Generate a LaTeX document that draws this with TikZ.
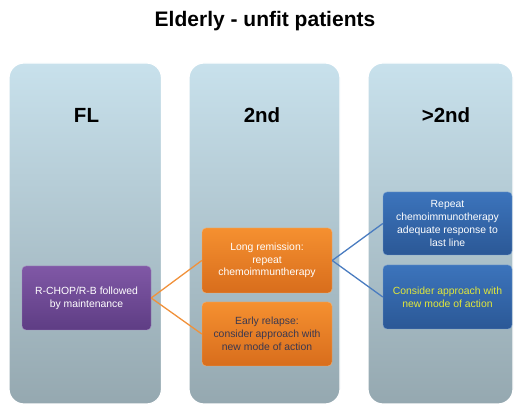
\documentclass[tikz,border=0pt]{standalone}
\usepackage{fontspec}
\setmainfont{Liberation Sans}
\begin{document}
\begin{tikzpicture}[x=1pt,y=1pt,
  panel/.style={draw=white,line width=1.2pt,rounded corners=15pt,top color=panelTop,bottom color=panelBot},
  head/.style={font=\bfseries\fontsize{20.5}{24}\selectfont,text=black},
  boxbase/.style={rounded corners=4pt,minimum width=129pt,minimum height=64pt,align=center,
    font=\fontsize{10.4}{12.8}\selectfont,text=white,inner sep=2pt},
  purplebox/.style={boxbase,top color=purpTop,bottom color=purpBot,draw=purpTop!70!white},
  orangebox/.style={boxbase,top color=orTop,bottom color=orBot,draw=orTop!70!white},
  bluebox/.style={boxbase,top color=blTop,bottom color=blBot,draw=blTop!70!white},
  olink/.style={draw=linkOr,line width=1.3pt},
  blink/.style={draw=linkBl,line width=1.3pt}
]
\definecolor{panelTop}{HTML}{C8E1EC}
\definecolor{panelBot}{HTML}{95A8B0}
\definecolor{purpTop}{HTML}{8058A6}
\definecolor{purpBot}{HTML}{5E3D84}
\definecolor{orTop}{HTML}{F59030}
\definecolor{orBot}{HTML}{D86D1C}
\definecolor{blTop}{HTML}{3C74BC}
\definecolor{blBot}{HTML}{2B5896}
\definecolor{linkOr}{HTML}{F0913A}
\definecolor{linkBl}{HTML}{4A7CC0}
\definecolor{yel}{HTML}{E2E83A}
\definecolor{darktxt}{HTML}{3A3850}
\useasboundingbox (0,0) rectangle (515,405);

\node[font=\bfseries\fontsize{21}{25}\selectfont] (title) at (265,384) {Elderly - unfit patients};

\path[panel] (9,1) rectangle (161.5,342);
\path[panel] (189,1) rectangle (340,342);
\path[panel] (368,1) rectangle (513,342);

\node[head] (h1) at (86.5,290) {FL};
\node[head] (h2) at (262,290) {2nd};
\node[head] (h3) at (446,290) {>2nd};

\node[purplebox] (p) at (86.5,107) {R-CHOP/R-B followed\\by maintenance};
\node[orangebox,minimum width=130pt,minimum height=65pt] (o1) at (267,144.5) {Long remission:\\repeat\\chemoimmuntherapy};
\node[orangebox,minimum width=130pt,text=darktxt] (o2) at (267,71) {Early relapse:\\consider approach with\\new mode of action};
\node[bluebox,minimum height=63pt] (b1) at (447.5,181.5) {Repeat\\chemoimmunotherapy\\adequate response to\\last line};
\node[bluebox,text=yel] (b2) at (447.5,108) {Consider approach with\\new mode of action};

\draw[olink] (p.east) -- (o1.west);
\draw[olink] (p.east) -- (o2.west);
\draw[blink] (o1.east) -- (b1.west);
\draw[blink] (o1.east) -- (b2.west);
\end{tikzpicture}
\end{document}
